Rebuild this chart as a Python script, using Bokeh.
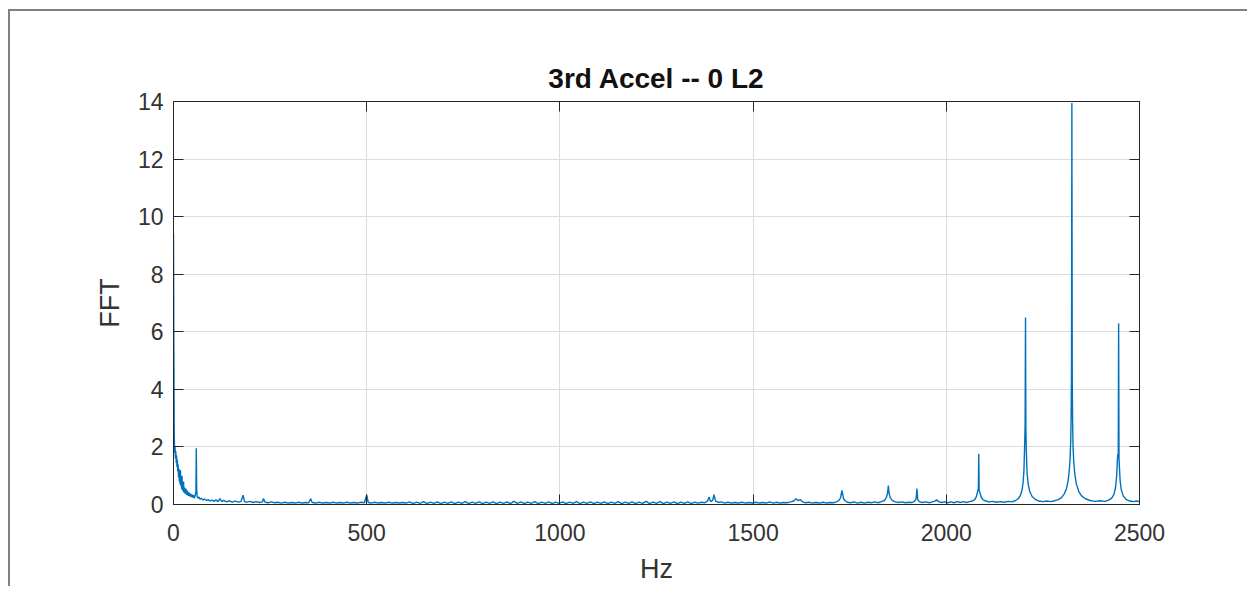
from bokeh.plotting import figure
from bokeh.models import LinearAxis, Range1d, FixedTicker
from bokeh.embed import file_html
from bokeh.resources import INLINE

# ---- data (frequency in Hz, FFT magnitude) ----
low_band = [
    (0, 9.4), (1, 5.2), (2, 2.4), (3, 1.8), (4, 2.0), (5, 1.6), (6, 1.85), (7, 1.45), (8, 1.7), (9, 1.3),
    (10, 1.55), (11, 1.15), (12, 1.4), (13, 0.95), (14, 1.25), (15, 0.8), (16, 1.1), (17, 0.7), (18, 1.2),
    (19, 0.65), (20, 0.9), (21, 0.55), (22, 1.0), (23, 0.5), (24, 0.75), (25, 0.45), (26, 0.8), (27, 0.42),
    (28, 0.6), (30, 0.38), (32, 0.55), (34, 0.33), (36, 0.48), (38, 0.3), (40, 0.42), (42, 0.28), (44, 0.38),
    (46, 0.26), (48, 0.35), (50, 0.24), (52, 0.32), (54, 0.22), (56, 0.3), (58, 0.45), (59, 1.95), (60, 0.55),
    (61, 0.3), (63, 0.22), (66, 0.26), (69, 0.18), (72, 0.22), (76, 0.15), (80, 0.19), (85, 0.14), (90, 0.17),
    (95, 0.12), (100, 0.15),
]
mid_band = [
    (105, 0.11), (110, 0.16), (115, 0.1), (120, 0.2), (125, 0.1), (130, 0.14), (138, 0.09), (145, 0.13),
    (152, 0.08), (160, 0.12), (168, 0.08), (175, 0.11), (180, 0.32), (184, 0.1), (190, 0.08), (198, 0.11),
    (206, 0.07), (214, 0.1), (222, 0.07), (230, 0.09), (233, 0.21), (237, 0.08), (245, 0.06), (253, 0.09),
    (261, 0.06), (270, 0.08), (279, 0.05), (288, 0.08), (297, 0.05), (306, 0.07), (315, 0.05), (324, 0.08),
    (333, 0.05), (342, 0.07), (350, 0.06), (355, 0.2), (359, 0.07), (368, 0.05), (377, 0.08), (386, 0.05),
    (395, 0.07), (404, 0.05), (413, 0.08), (422, 0.05), (431, 0.07), (440, 0.05), (449, 0.08), (458, 0.05),
    (467, 0.07), (476, 0.05), (485, 0.08), (494, 0.06), (500, 0.33), (504, 0.07), (512, 0.05), (521, 0.08),
    (530, 0.05), (539, 0.07), (548, 0.05), (557, 0.08), (566, 0.05), (575, 0.07), (584, 0.05), (593, 0.07),
]
floor_band = [
    (602, 0.05), (611, 0.09), (620, 0.03), (629, 0.08), (638, 0.04), (647, 0.1), (656, 0.03), (665, 0.08),
    (674, 0.04), (683, 0.09), (692, 0.03), (701, 0.08), (710, 0.04), (719, 0.09), (728, 0.03), (737, 0.08),
    (746, 0.04), (755, 0.1), (764, 0.03), (773, 0.08), (782, 0.04), (791, 0.09), (800, 0.03), (809, 0.08),
    (818, 0.04), (827, 0.09), (836, 0.03), (845, 0.08), (854, 0.04), (863, 0.09), (872, 0.03), (881, 0.11),
    (890, 0.04), (899, 0.09), (908, 0.03), (917, 0.08), (926, 0.04), (935, 0.1), (944, 0.03), (953, 0.08),
    (962, 0.04), (971, 0.09), (980, 0.03), (989, 0.08), (998, 0.04), (1007, 0.09), (1016, 0.03), (1025, 0.08),
    (1034, 0.04), (1043, 0.1), (1052, 0.03), (1061, 0.08), (1070, 0.04), (1079, 0.09), (1088, 0.03),
    (1097, 0.08), (1106, 0.04), (1115, 0.09), (1124, 0.03), (1133, 0.08), (1142, 0.04), (1151, 0.1),
    (1160, 0.03), (1169, 0.08), (1178, 0.04), (1187, 0.09), (1196, 0.03), (1205, 0.08), (1214, 0.04),
    (1223, 0.11), (1232, 0.03), (1241, 0.08), (1250, 0.04), (1259, 0.1), (1268, 0.03), (1277, 0.08),
    (1286, 0.04), (1295, 0.09), (1304, 0.03), (1313, 0.08), (1322, 0.04), (1331, 0.09), (1340, 0.03),
    (1349, 0.08),
]
upper_band = [
    (1358, 0.05), (1367, 0.08), (1375, 0.06), (1382, 0.12), (1386, 0.26), (1390, 0.1), (1395, 0.14),
    (1399, 0.34), (1403, 0.12), (1410, 0.07), (1418, 0.09), (1426, 0.05), (1435, 0.08), (1444, 0.05),
    (1453, 0.07), (1462, 0.05), (1471, 0.08), (1480, 0.05), (1489, 0.07), (1498, 0.05), (1507, 0.08),
    (1516, 0.05), (1525, 0.07), (1534, 0.05), (1543, 0.09), (1552, 0.05), (1561, 0.08), (1570, 0.05),
    (1579, 0.07), (1588, 0.06), (1597, 0.09), (1605, 0.12), (1611, 0.2), (1616, 0.14), (1622, 0.17),
    (1628, 0.09), (1636, 0.06), (1645, 0.08), (1654, 0.05), (1663, 0.07), (1672, 0.05), (1681, 0.08),
    (1690, 0.05), (1699, 0.07), (1708, 0.06), (1716, 0.09), (1722, 0.14), (1726, 0.22), (1730, 0.49),
    (1734, 0.2), (1738, 0.13), (1744, 0.08), (1752, 0.06), (1761, 0.09), (1770, 0.05), (1779, 0.08),
    (1788, 0.05), (1797, 0.08), (1806, 0.06), (1815, 0.09), (1824, 0.06), (1832, 0.1), (1840, 0.14),
    (1845, 0.25), (1848, 0.4), (1850, 0.66), (1852, 0.38), (1855, 0.24), (1860, 0.14), (1868, 0.09),
    (1876, 0.07), (1885, 0.09), (1894, 0.06), (1903, 0.08), (1912, 0.07), (1918, 0.12), (1922, 0.2),
    (1924, 0.55), (1926, 0.18), (1930, 0.1), (1938, 0.07), (1947, 0.09), (1956, 0.06), (1964, 0.09),
    (1970, 0.12), (1975, 0.16), (1980, 0.1), (1988, 0.07), (1996, 0.09), (2004, 0.06), (2012, 0.09),
    (2020, 0.06), (2028, 0.1), (2036, 0.07), (2044, 0.1), (2052, 0.07), (2060, 0.1),
]
peak_band = [
    (2068, 0.12), (2074, 0.18), (2078, 0.28), (2081, 0.45), (2083, 0.55), (2084, 1.76), (2085, 0.5),
    (2087, 0.42), (2090, 0.26), (2095, 0.17), (2102, 0.12), (2110, 0.09), (2120, 0.11), (2130, 0.08),
    (2140, 0.1), (2150, 0.08), (2160, 0.11), (2170, 0.09), (2178, 0.13), (2186, 0.2), (2192, 0.32),
    (2196, 0.5), (2199, 0.8), (2201, 1.2), (2203, 2.2), (2204, 2.8), (2205, 6.5), (2206, 2.6), (2207, 1.9),
    (2209, 1.1), (2212, 0.7), (2216, 0.45), (2222, 0.28), (2230, 0.18), (2240, 0.12), (2250, 0.1),
    (2260, 0.12), (2270, 0.1), (2280, 0.13), (2290, 0.17), (2298, 0.24), (2305, 0.36), (2311, 0.55),
    (2315, 0.8), (2318, 1.15), (2320, 1.5), (2322, 2.2), (2323, 3.0), (2324, 4.5), (2325, 13.95),
    (2326, 4.2), (2327, 2.8), (2328, 2.0), (2330, 1.45), (2333, 1.0), (2337, 0.7), (2343, 0.45), (2350, 0.3),
    (2360, 0.2), (2372, 0.14), (2385, 0.11), (2398, 0.13), (2410, 0.11), (2420, 0.15), (2428, 0.22),
    (2434, 0.35), (2438, 0.6), (2441, 1.0), (2443, 1.6), (2444, 1.75), (2445, 1.7), (2446, 6.3),
    (2447, 1.6), (2448, 1.3), (2450, 0.8), (2453, 0.5), (2458, 0.3), (2465, 0.18), (2475, 0.12),
    (2485, 0.1), (2492, 0.12), (2500, 0.1),
]

x_ticks = [0, 500, 1000, 1500, 2000, 2500]
y_ticks = [0, 2, 4, 6, 8, 10, 12, 14]
title_text = "3rd Accel -- 0 L2"
x_label = "Hz"
y_label = "FFT"

all_pts = low_band + mid_band + floor_band + upper_band + peak_band
freq = [f for f, _ in all_pts]
amp = [a for _, a in all_pts]

FONT = "Liberation Sans"
TXT = "#262626"

p = figure(
    width=1239, height=577, output_backend="svg", toolbar_location=None,
    x_range=Range1d(0, 2500), y_range=Range1d(0, 14),
    min_border_left=163, min_border_right=110, min_border_top=90, min_border_bottom=84,
    background_fill_color="white", border_fill_color="white",
)
p.styles = {
    "border-top": "2px solid #808080",
    "border-left": "2px solid #808080",
    "margin-top": "9px",
    "margin-left": "8px",
}

p.title.text = title_text
p.title.align = "center"
p.title.text_font = FONT
p.title.text_font_size = "28px"
p.title.text_font_style = "bold"
p.title.text_color = "#111111"
p.title.standoff = 15

p.line(freq, amp, line_color="#0072BD", line_width=1.4)

p.outline_line_color = TXT
p.outline_line_width = 1

for ax, ticks in ((p.xaxis[0], x_ticks), (p.yaxis[0], y_ticks)):
    ax.ticker = FixedTicker(ticks=ticks)
    ax.major_tick_in = 10
    ax.major_tick_out = 0
    ax.minor_tick_line_color = None
    ax.axis_line_color = TXT
    ax.major_tick_line_color = TXT
    ax.major_label_text_font = FONT
    ax.major_label_text_font_size = "23px"
    ax.major_label_text_color = "#333333"
    ax.axis_label_text_font = FONT
    ax.axis_label_text_font_size = "27px"
    ax.axis_label_text_font_style = "normal"
    ax.axis_label_text_color = "#333333"

p.xaxis[0].axis_label = x_label
p.xaxis[0].major_label_standoff = 19
p.xaxis[0].axis_label_standoff = 10
p.yaxis[0].axis_label = y_label
p.yaxis[0].major_label_standoff = 10
p.yaxis[0].axis_label_standoff = 10

top_ax = LinearAxis(ticker=FixedTicker(ticks=x_ticks))
right_ax = LinearAxis(ticker=FixedTicker(ticks=y_ticks))
for ax in (top_ax, right_ax):
    ax.major_tick_in = 10
    ax.major_tick_out = 0
    ax.minor_tick_line_color = None
    ax.axis_line_color = TXT
    ax.major_tick_line_color = TXT
    ax.major_label_text_font_size = "0px"
    ax.major_label_standoff = 0
p.add_layout(top_ax, "above")
p.add_layout(right_ax, "right")

p.xgrid.ticker = FixedTicker(ticks=x_ticks)
p.ygrid.ticker = FixedTicker(ticks=y_ticks)
p.grid.grid_line_color = "#dcdcdc"
p.grid.grid_line_width = 1

open("out.html", "w").write(file_html(p, INLINE))
